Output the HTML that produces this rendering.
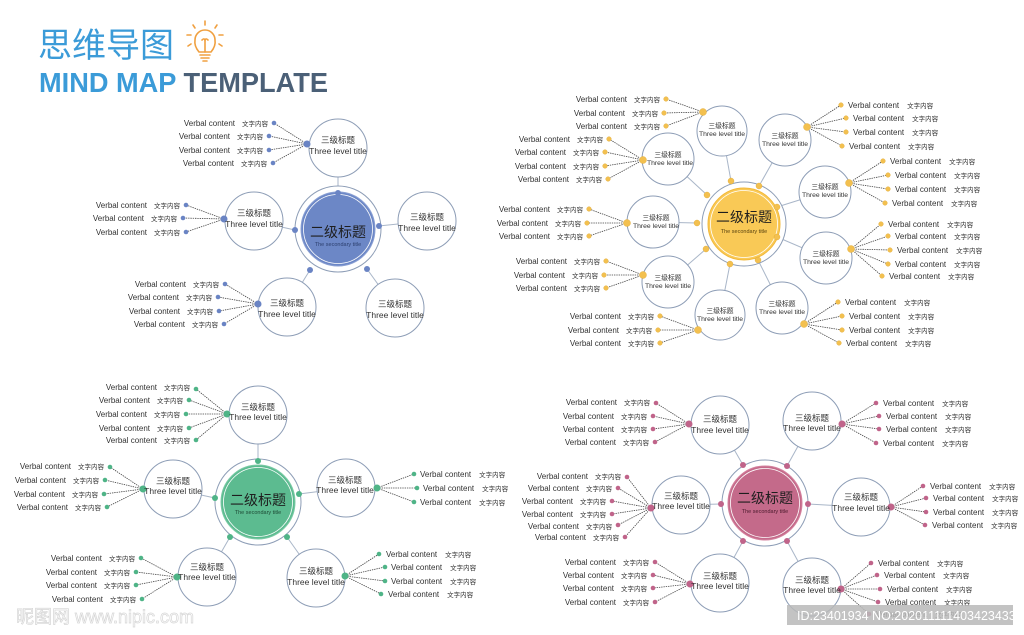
<!DOCTYPE html>
<html><head><meta charset="utf-8"><style>
html,body{margin:0;padding:0;background:#fff;}
svg{display:block;}
text{font-family:"Liberation Sans","Noto Sans CJK SC",sans-serif;}
.v{font-size:8px;fill:#333;}
.v tspan{font-size:6.5px;}
.n1{font-size:8.5px;fill:#333;text-anchor:middle;}
.n2{font-size:6.8px;fill:#333;text-anchor:middle;}
.ct{font-size:14px;fill:#1e1e1e;text-anchor:middle;}
.cs{font-size:5.5px;text-anchor:middle;}
.dl{stroke:#444;stroke-width:0.8;stroke-dasharray:1.4 0.9;fill:none;}
.sl{stroke:#a9b6c8;stroke-width:1;}
.nc{fill:#fff;stroke:#8d9db6;stroke-width:1;}
</style></head><body>
<svg width="1024" height="635" viewBox="0 0 1024 635" xmlns="http://www.w3.org/2000/svg">
<!-- Title -->
<text x="38" y="57" font-size="34" fill="#3b9bd8" font-family="Liberation Sans,Noto Sans CJK SC,sans-serif">思维导图</text>
<text x="39" y="92" font-size="28" font-weight="bold" fill="#3b9bd8" textLength="289" lengthAdjust="spacingAndGlyphs">MIND MAP <tspan fill="#4b6077">TEMPLATE</tspan></text>
<g stroke="#f0a040" stroke-width="1.6" fill="none" stroke-linecap="round">
<path d="M199 52 Q194 46 195 40 A10 10 0 1 1 215 40 Q216 46 211 52 Z"/>
<path d="M200 55 H210 M201 58 H209 M203 61 H207"/>
<path d="M202 40 q3 -3 3 2 M208 40 q-3 -3 -3 2 M205 42 V52"/>
<path d="M205 21 V25 M193 25 l2 3 M217 25 l-2 3 M187 35 h4 M219 35 h4 M188 46 l3 -2 M222 46 l-3 -2"/>
</g>

<!-- ================= Q1 BLUE ================= -->
<g>
<line class="sl" x1="338" y1="193" x2="338" y2="148"/>
<line class="sl" x1="295" y1="230" x2="254" y2="221"/>
<line class="sl" x1="379" y1="226" x2="427" y2="221"/>
<line class="sl" x1="310" y1="270" x2="287" y2="307"/>
<line class="sl" x1="367" y1="269" x2="395" y2="308"/>
<path class="dl" d="M307 144L274 123M307 144L269 136M307 144L269 150M307 144L273 163"/>
<path class="dl" d="M224 219L186 205M224 219L183 218M224 219L186 232"/>
<path class="dl" d="M258 304L225 284M258 304L218 297M258 304L219 311M258 304L224 324"/>
<circle class="nc" cx="338" cy="148" r="29"/>
<circle class="nc" cx="254" cy="221" r="29"/>
<circle class="nc" cx="427" cy="221" r="29"/>
<circle class="nc" cx="287" cy="307" r="29"/>
<circle class="nc" cx="395" cy="308" r="29"/>
<circle class="nc" cx="338" cy="229" r="43"/>
<circle cx="338" cy="229" r="37" fill="#6c87c6" stroke="#8aa0d4" stroke-width="1"/>
<circle cx="338" cy="229" r="34.5" fill="none" stroke="#fff" stroke-width="0.8"/>
<text class="ct" x="338" y="237">二级标题</text>
<text class="cs" x="338" y="246" fill="#2c3f6e">The secondary title</text>
<g fill="#6a84c4">
<circle cx="338" cy="193" r="3"/><circle cx="295" cy="230" r="3"/><circle cx="379" cy="226" r="3"/><circle cx="310" cy="270" r="3"/><circle cx="367" cy="269" r="3"/>
<circle cx="307" cy="144" r="3.5"/><circle cx="224" cy="219" r="3.5"/><circle cx="258" cy="304" r="3.5"/>
<circle cx="274" cy="123" r="2.3"/><circle cx="269" cy="136" r="2.3"/><circle cx="269" cy="150" r="2.3"/><circle cx="273" cy="163" r="2.3"/>
<circle cx="186" cy="205" r="2.3"/><circle cx="183" cy="218" r="2.3"/><circle cx="186" cy="232" r="2.3"/>
<circle cx="225" cy="284" r="2.3"/><circle cx="218" cy="297" r="2.3"/><circle cx="219" cy="311" r="2.3"/><circle cx="224" cy="324" r="2.3"/>
</g>
<g text-anchor="end">
<text class="v" x="268" y="126">Verbal content<tspan dx="7">文字内容</tspan></text>
<text class="v" x="263" y="139">Verbal content<tspan dx="7">文字内容</tspan></text>
<text class="v" x="263" y="153">Verbal content<tspan dx="7">文字内容</tspan></text>
<text class="v" x="267" y="166">Verbal content<tspan dx="7">文字内容</tspan></text>
<text class="v" x="180" y="208">Verbal content<tspan dx="7">文字内容</tspan></text>
<text class="v" x="177" y="221">Verbal content<tspan dx="7">文字内容</tspan></text>
<text class="v" x="180" y="235">Verbal content<tspan dx="7">文字内容</tspan></text>
<text class="v" x="219" y="287">Verbal content<tspan dx="7">文字内容</tspan></text>
<text class="v" x="212" y="300">Verbal content<tspan dx="7">文字内容</tspan></text>
<text class="v" x="213" y="314">Verbal content<tspan dx="7">文字内容</tspan></text>
<text class="v" x="218" y="327">Verbal content<tspan dx="7">文字内容</tspan></text>
</g>
<text class="n1" x="338" y="143">三级标题</text><text class="n1" x="338" y="154">Three level title</text>
<text class="n1" x="254" y="216">三级标题</text><text class="n1" x="254" y="227">Three level title</text>
<text class="n1" x="427" y="220">三级标题</text><text class="n1" x="427" y="231">Three level title</text>
<text class="n1" x="287" y="306">三级标题</text><text class="n1" x="287" y="317">Three level title</text>
<text class="n1" x="395" y="307">三级标题</text><text class="n1" x="395" y="318">Three level title</text>
</g>

<!-- ================= Q2 YELLOW ================= -->
<g>
<line class="sl" x1="731" y1="181" x2="722" y2="131"/>
<line class="sl" x1="759" y1="186" x2="785" y2="140"/>
<line class="sl" x1="777" y1="207" x2="825" y2="192"/>
<line class="sl" x1="777" y1="237" x2="826" y2="258"/>
<line class="sl" x1="758" y1="260" x2="782" y2="308"/>
<line class="sl" x1="730" y1="264" x2="720" y2="315"/>
<line class="sl" x1="706" y1="249" x2="668" y2="282"/>
<line class="sl" x1="697" y1="223" x2="653" y2="222"/>
<line class="sl" x1="707" y1="195" x2="668" y2="159"/>
<path class="dl" d="M703 112L666 99M703 112L664 113M703 112L666 126"/>
<path class="dl" d="M807 127L841 105M807 127L846 118M807 127L846 132M807 127L842 146"/>
<path class="dl" d="M849 183L883 161M849 183L888 175M849 183L888 189M849 183L885 203"/>
<path class="dl" d="M851 249L881 224M851 249L888 236M851 249L890 250M851 249L888 264M851 249L882 276"/>
<path class="dl" d="M804 324L838 302M804 324L842 316M804 324L842 330M804 324L839 343"/>
<path class="dl" d="M698 330L660 316M698 330L658 330M698 330L660 343"/>
<path class="dl" d="M643 275L606 261M643 275L604 275M643 275L606 288"/>
<path class="dl" d="M627 223L589 209M627 223L587 223M627 223L589 236"/>
<path class="dl" d="M643 160L609 139M643 160L605 152M643 160L605 166M643 160L608 179"/>
<circle class="nc" cx="722" cy="131" r="25"/>
<circle class="nc" cx="785" cy="140" r="26"/>
<circle class="nc" cx="825" cy="192" r="26"/>
<circle class="nc" cx="826" cy="258" r="26"/>
<circle class="nc" cx="782" cy="308" r="26"/>
<circle class="nc" cx="720" cy="315" r="25"/>
<circle class="nc" cx="668" cy="282" r="26"/>
<circle class="nc" cx="653" cy="222" r="26"/>
<circle class="nc" cx="668" cy="159" r="26"/>
<circle class="nc" cx="744" cy="224" r="42"/>
<circle cx="744" cy="224" r="36" fill="#f9c956" stroke="#f3b93a" stroke-width="1"/>
<circle cx="744" cy="224" r="33.5" fill="none" stroke="#fff" stroke-width="0.8"/>
<text class="ct" x="744" y="222">二级标题</text>
<text class="cs" x="744" y="233" fill="#5a4410">The secondary title</text>
<g fill="#f3c04f" stroke="#e0a830" stroke-width="0.4">
<circle cx="731" cy="181" r="3"/><circle cx="759" cy="186" r="3"/><circle cx="777" cy="207" r="3"/><circle cx="777" cy="237" r="3"/><circle cx="758" cy="260" r="3"/><circle cx="730" cy="264" r="3"/><circle cx="706" cy="249" r="3"/><circle cx="697" cy="223" r="3"/><circle cx="707" cy="195" r="3"/>
<circle cx="703" cy="112" r="3.5"/><circle cx="807" cy="127" r="3.5"/><circle cx="849" cy="183" r="3.5"/><circle cx="851" cy="249" r="3.5"/><circle cx="804" cy="324" r="3.5"/><circle cx="698" cy="330" r="3.5"/><circle cx="643" cy="275" r="3.5"/><circle cx="627" cy="223" r="3.5"/><circle cx="643" cy="160" r="3.5"/>
<circle cx="666" cy="99" r="2.3"/><circle cx="664" cy="113" r="2.3"/><circle cx="666" cy="126" r="2.3"/>
<circle cx="841" cy="105" r="2.3"/><circle cx="846" cy="118" r="2.3"/><circle cx="846" cy="132" r="2.3"/><circle cx="842" cy="146" r="2.3"/>
<circle cx="883" cy="161" r="2.3"/><circle cx="888" cy="175" r="2.3"/><circle cx="888" cy="189" r="2.3"/><circle cx="885" cy="203" r="2.3"/>
<circle cx="881" cy="224" r="2.3"/><circle cx="888" cy="236" r="2.3"/><circle cx="890" cy="250" r="2.3"/><circle cx="888" cy="264" r="2.3"/><circle cx="882" cy="276" r="2.3"/>
<circle cx="838" cy="302" r="2.3"/><circle cx="842" cy="316" r="2.3"/><circle cx="842" cy="330" r="2.3"/><circle cx="839" cy="343" r="2.3"/>
<circle cx="660" cy="316" r="2.3"/><circle cx="658" cy="330" r="2.3"/><circle cx="660" cy="343" r="2.3"/>
<circle cx="606" cy="261" r="2.3"/><circle cx="604" cy="275" r="2.3"/><circle cx="606" cy="288" r="2.3"/>
<circle cx="589" cy="209" r="2.3"/><circle cx="587" cy="223" r="2.3"/><circle cx="589" cy="236" r="2.3"/>
<circle cx="609" cy="139" r="2.3"/><circle cx="605" cy="152" r="2.3"/><circle cx="605" cy="166" r="2.3"/><circle cx="608" cy="179" r="2.3"/>
</g>
<g text-anchor="end">
<text class="v" x="660" y="102">Verbal content<tspan dx="7">文字内容</tspan></text>
<text class="v" x="658" y="116">Verbal content<tspan dx="7">文字内容</tspan></text>
<text class="v" x="660" y="129">Verbal content<tspan dx="7">文字内容</tspan></text>
<text class="v" x="654" y="319">Verbal content<tspan dx="7">文字内容</tspan></text>
<text class="v" x="652" y="333">Verbal content<tspan dx="7">文字内容</tspan></text>
<text class="v" x="654" y="346">Verbal content<tspan dx="7">文字内容</tspan></text>
<text class="v" x="600" y="264">Verbal content<tspan dx="7">文字内容</tspan></text>
<text class="v" x="598" y="278">Verbal content<tspan dx="7">文字内容</tspan></text>
<text class="v" x="600" y="291">Verbal content<tspan dx="7">文字内容</tspan></text>
<text class="v" x="583" y="212">Verbal content<tspan dx="7">文字内容</tspan></text>
<text class="v" x="581" y="226">Verbal content<tspan dx="7">文字内容</tspan></text>
<text class="v" x="583" y="239">Verbal content<tspan dx="7">文字内容</tspan></text>
<text class="v" x="603" y="142">Verbal content<tspan dx="7">文字内容</tspan></text>
<text class="v" x="599" y="155">Verbal content<tspan dx="7">文字内容</tspan></text>
<text class="v" x="599" y="169">Verbal content<tspan dx="7">文字内容</tspan></text>
<text class="v" x="602" y="182">Verbal content<tspan dx="7">文字内容</tspan></text>
</g>
<g>
<text class="v" x="848" y="108">Verbal content<tspan dx="8">文字内容</tspan></text>
<text class="v" x="853" y="121">Verbal content<tspan dx="8">文字内容</tspan></text>
<text class="v" x="853" y="135">Verbal content<tspan dx="8">文字内容</tspan></text>
<text class="v" x="849" y="149">Verbal content<tspan dx="8">文字内容</tspan></text>
<text class="v" x="890" y="164">Verbal content<tspan dx="8">文字内容</tspan></text>
<text class="v" x="895" y="178">Verbal content<tspan dx="8">文字内容</tspan></text>
<text class="v" x="895" y="192">Verbal content<tspan dx="8">文字内容</tspan></text>
<text class="v" x="892" y="206">Verbal content<tspan dx="8">文字内容</tspan></text>
<text class="v" x="888" y="227">Verbal content<tspan dx="8">文字内容</tspan></text>
<text class="v" x="895" y="239">Verbal content<tspan dx="8">文字内容</tspan></text>
<text class="v" x="897" y="253">Verbal content<tspan dx="8">文字内容</tspan></text>
<text class="v" x="895" y="267">Verbal content<tspan dx="8">文字内容</tspan></text>
<text class="v" x="889" y="279">Verbal content<tspan dx="8">文字内容</tspan></text>
<text class="v" x="845" y="305">Verbal content<tspan dx="8">文字内容</tspan></text>
<text class="v" x="849" y="319">Verbal content<tspan dx="8">文字内容</tspan></text>
<text class="v" x="849" y="333">Verbal content<tspan dx="8">文字内容</tspan></text>
<text class="v" x="846" y="346">Verbal content<tspan dx="8">文字内容</tspan></text>
</g>
<text class="n2" x="722" y="128">三级标题</text><text class="n2" x="722" y="136">Three level title</text>
<text class="n2" x="785" y="138">三级标题</text><text class="n2" x="785" y="146">Three level title</text>
<text class="n2" x="825" y="189">三级标题</text><text class="n2" x="825" y="197">Three level title</text>
<text class="n2" x="826" y="256">三级标题</text><text class="n2" x="826" y="264">Three level title</text>
<text class="n2" x="782" y="306">三级标题</text><text class="n2" x="782" y="314">Three level title</text>
<text class="n2" x="720" y="313">三级标题</text><text class="n2" x="720" y="321">Three level title</text>
<text class="n2" x="668" y="280">三级标题</text><text class="n2" x="668" y="288">Three level title</text>
<text class="n2" x="656" y="220">三级标题</text><text class="n2" x="656" y="228">Three level title</text>
<text class="n2" x="668" y="157">三级标题</text><text class="n2" x="670" y="165">Three level title</text>
</g>

<!-- ================= Q3 GREEN ================= -->
<g>
<line class="sl" x1="258" y1="461" x2="258" y2="415"/>
<line class="sl" x1="215" y1="498" x2="173" y2="489"/>
<line class="sl" x1="299" y1="494" x2="346" y2="488"/>
<line class="sl" x1="230" y1="537" x2="207" y2="577"/>
<line class="sl" x1="287" y1="537" x2="316" y2="578"/>
<path class="dl" d="M227 414L196 389M227 414L189 400M227 414L186 414M227 414L189 428M227 414L196 440"/>
<path class="dl" d="M143 489L110 467M143 489L105 480M143 489L104 494M143 489L107 507"/>
<path class="dl" d="M377 488L414 474M377 488L417 488M377 488L414 502"/>
<path class="dl" d="M177 577L141 558M177 577L136 572M177 577L136 585M177 577L142 599"/>
<path class="dl" d="M345 576L379 554M345 576L385 567M345 576L385 581M345 576L381 594"/>
<circle class="nc" cx="258" cy="415" r="29"/>
<circle class="nc" cx="173" cy="489" r="29"/>
<circle class="nc" cx="346" cy="488" r="29"/>
<circle class="nc" cx="207" cy="577" r="29"/>
<circle class="nc" cx="316" cy="578" r="29"/>
<circle class="nc" cx="258" cy="502" r="43"/>
<circle cx="258" cy="502" r="37" fill="#5cbb90" stroke="#7ccaa6" stroke-width="1"/>
<circle cx="258" cy="502" r="34.5" fill="none" stroke="#fff" stroke-width="0.8"/>
<text class="ct" x="258" y="505">二级标题</text>
<text class="cs" x="258" y="514" fill="#1d4a35">The secondary title</text>
<g fill="#4fb487">
<circle cx="258" cy="461" r="3"/><circle cx="215" cy="498" r="3"/><circle cx="299" cy="494" r="3"/><circle cx="230" cy="537" r="3"/><circle cx="287" cy="537" r="3"/>
<circle cx="227" cy="414" r="3.5"/><circle cx="143" cy="489" r="3.5"/><circle cx="377" cy="488" r="3.5"/><circle cx="177" cy="577" r="3.5"/><circle cx="345" cy="576" r="3.5"/>
<circle cx="196" cy="389" r="2.3"/><circle cx="189" cy="400" r="2.3"/><circle cx="186" cy="414" r="2.3"/><circle cx="189" cy="428" r="2.3"/><circle cx="196" cy="440" r="2.3"/>
<circle cx="110" cy="467" r="2.3"/><circle cx="105" cy="480" r="2.3"/><circle cx="104" cy="494" r="2.3"/><circle cx="107" cy="507" r="2.3"/>
<circle cx="414" cy="474" r="2.3"/><circle cx="417" cy="488" r="2.3"/><circle cx="414" cy="502" r="2.3"/>
<circle cx="141" cy="558" r="2.3"/><circle cx="136" cy="572" r="2.3"/><circle cx="136" cy="585" r="2.3"/><circle cx="142" cy="599" r="2.3"/>
<circle cx="379" cy="554" r="2.3"/><circle cx="385" cy="567" r="2.3"/><circle cx="385" cy="581" r="2.3"/><circle cx="381" cy="594" r="2.3"/>
</g>
<g text-anchor="end">
<text class="v" x="190" y="390">Verbal content<tspan dx="7">文字内容</tspan></text>
<text class="v" x="183" y="403">Verbal content<tspan dx="7">文字内容</tspan></text>
<text class="v" x="180" y="417">Verbal content<tspan dx="7">文字内容</tspan></text>
<text class="v" x="183" y="431">Verbal content<tspan dx="7">文字内容</tspan></text>
<text class="v" x="190" y="443">Verbal content<tspan dx="7">文字内容</tspan></text>
<text class="v" x="104" y="469">Verbal content<tspan dx="7">文字内容</tspan></text>
<text class="v" x="99" y="483">Verbal content<tspan dx="7">文字内容</tspan></text>
<text class="v" x="98" y="497">Verbal content<tspan dx="7">文字内容</tspan></text>
<text class="v" x="101" y="510">Verbal content<tspan dx="7">文字内容</tspan></text>
<text class="v" x="135" y="561">Verbal content<tspan dx="7">文字内容</tspan></text>
<text class="v" x="130" y="575">Verbal content<tspan dx="7">文字内容</tspan></text>
<text class="v" x="130" y="588">Verbal content<tspan dx="7">文字内容</tspan></text>
<text class="v" x="136" y="602">Verbal content<tspan dx="7">文字内容</tspan></text>
</g>
<g>
<text class="v" x="420" y="477">Verbal content<tspan dx="8">文字内容</tspan></text>
<text class="v" x="423" y="491">Verbal content<tspan dx="8">文字内容</tspan></text>
<text class="v" x="420" y="505">Verbal content<tspan dx="8">文字内容</tspan></text>
<text class="v" x="386" y="557">Verbal content<tspan dx="8">文字内容</tspan></text>
<text class="v" x="391" y="570">Verbal content<tspan dx="8">文字内容</tspan></text>
<text class="v" x="391" y="584">Verbal content<tspan dx="8">文字内容</tspan></text>
<text class="v" x="388" y="597">Verbal content<tspan dx="8">文字内容</tspan></text>
</g>
<text class="n1" x="258" y="410">三级标题</text><text class="n1" x="258" y="420">Three level title</text>
<text class="n1" x="173" y="484">三级标题</text><text class="n1" x="173" y="494">Three level title</text>
<text class="n1" x="345" y="483">三级标题</text><text class="n1" x="345" y="493">Three level title</text>
<text class="n1" x="207" y="570">三级标题</text><text class="n1" x="207" y="580">Three level title</text>
<text class="n1" x="316" y="574">三级标题</text><text class="n1" x="316" y="585">Three level title</text>
</g>

<!-- ================= Q4 PINK ================= -->
<g>
<line class="sl" x1="743" y1="465" x2="720" y2="425"/>
<line class="sl" x1="787" y1="466" x2="812" y2="421"/>
<line class="sl" x1="721" y1="504" x2="681" y2="505"/>
<line class="sl" x1="808" y1="504" x2="861" y2="507"/>
<line class="sl" x1="743" y1="541" x2="720" y2="583"/>
<line class="sl" x1="787" y1="541" x2="812" y2="587"/>
<path class="dl" d="M689 424L656 403M689 424L653 416M689 424L653 429M689 424L655 442"/>
<path class="dl" d="M842 424L876 403M842 424L879 416M842 424L879 429M842 424L876 443"/>
<path class="dl" d="M651 508L627 477M651 508L618 488M651 508L612 501M651 508L612 514M651 508L618 525M651 508L625 537"/>
<path class="dl" d="M891 507L923 486M891 507L926 498M891 507L926 512M891 507L925 525"/>
<path class="dl" d="M690 584L655 562M690 584L653 575M690 584L653 588M690 584L655 602"/>
<path class="dl" d="M841 589L871 563M841 589L877 575M841 589L880 589M841 589L878 602M841 589L869 614"/>
<circle class="nc" cx="720" cy="425" r="29"/>
<circle class="nc" cx="812" cy="421" r="29"/>
<circle class="nc" cx="681" cy="505" r="29"/>
<circle class="nc" cx="861" cy="507" r="29"/>
<circle class="nc" cx="720" cy="583" r="29"/>
<circle class="nc" cx="812" cy="587" r="29"/>
<circle class="nc" cx="765" cy="503" r="43"/>
<circle cx="765" cy="503" r="37" fill="#c46a8a" stroke="#d5839f" stroke-width="1"/>
<circle cx="765" cy="503" r="34.5" fill="none" stroke="#fff" stroke-width="0.8"/>
<text class="ct" x="765" y="503">二级标题</text>
<text class="cs" x="765" y="513" fill="#4a1a2c">The secondary title</text>
<g fill="#c0648a">
<circle cx="743" cy="465" r="3"/><circle cx="787" cy="466" r="3"/><circle cx="721" cy="504" r="3"/><circle cx="808" cy="504" r="3"/><circle cx="743" cy="541" r="3"/><circle cx="787" cy="541" r="3"/>
<circle cx="689" cy="424" r="3.5"/><circle cx="842" cy="424" r="3.5"/><circle cx="651" cy="508" r="3.5"/><circle cx="891" cy="507" r="3.5"/><circle cx="690" cy="584" r="3.5"/><circle cx="841" cy="589" r="3.5"/>
<circle cx="656" cy="403" r="2.3"/><circle cx="653" cy="416" r="2.3"/><circle cx="653" cy="429" r="2.3"/><circle cx="655" cy="442" r="2.3"/>
<circle cx="876" cy="403" r="2.3"/><circle cx="879" cy="416" r="2.3"/><circle cx="879" cy="429" r="2.3"/><circle cx="876" cy="443" r="2.3"/>
<circle cx="627" cy="477" r="2.3"/><circle cx="618" cy="488" r="2.3"/><circle cx="612" cy="501" r="2.3"/><circle cx="612" cy="514" r="2.3"/><circle cx="618" cy="525" r="2.3"/><circle cx="625" cy="537" r="2.3"/>
<circle cx="923" cy="486" r="2.3"/><circle cx="926" cy="498" r="2.3"/><circle cx="926" cy="512" r="2.3"/><circle cx="925" cy="525" r="2.3"/>
<circle cx="655" cy="562" r="2.3"/><circle cx="653" cy="575" r="2.3"/><circle cx="653" cy="588" r="2.3"/><circle cx="655" cy="602" r="2.3"/>
<circle cx="871" cy="563" r="2.3"/><circle cx="877" cy="575" r="2.3"/><circle cx="880" cy="589" r="2.3"/><circle cx="878" cy="602" r="2.3"/><circle cx="869" cy="614" r="2.3"/>
</g>
<g text-anchor="end">
<text class="v" x="650" y="405">Verbal content<tspan dx="7">文字内容</tspan></text>
<text class="v" x="647" y="419">Verbal content<tspan dx="7">文字内容</tspan></text>
<text class="v" x="647" y="432">Verbal content<tspan dx="7">文字内容</tspan></text>
<text class="v" x="649" y="445">Verbal content<tspan dx="7">文字内容</tspan></text>
<text class="v" x="621" y="479">Verbal content<tspan dx="7">文字内容</tspan></text>
<text class="v" x="612" y="491">Verbal content<tspan dx="7">文字内容</tspan></text>
<text class="v" x="606" y="504">Verbal content<tspan dx="7">文字内容</tspan></text>
<text class="v" x="606" y="517">Verbal content<tspan dx="7">文字内容</tspan></text>
<text class="v" x="612" y="529">Verbal content<tspan dx="7">文字内容</tspan></text>
<text class="v" x="619" y="540">Verbal content<tspan dx="7">文字内容</tspan></text>
<text class="v" x="649" y="565">Verbal content<tspan dx="7">文字内容</tspan></text>
<text class="v" x="647" y="578">Verbal content<tspan dx="7">文字内容</tspan></text>
<text class="v" x="647" y="591">Verbal content<tspan dx="7">文字内容</tspan></text>
<text class="v" x="649" y="605">Verbal content<tspan dx="7">文字内容</tspan></text>
</g>
<g>
<text class="v" x="883" y="406">Verbal content<tspan dx="8">文字内容</tspan></text>
<text class="v" x="886" y="419">Verbal content<tspan dx="8">文字内容</tspan></text>
<text class="v" x="886" y="432">Verbal content<tspan dx="8">文字内容</tspan></text>
<text class="v" x="883" y="446">Verbal content<tspan dx="8">文字内容</tspan></text>
<text class="v" x="930" y="489">Verbal content<tspan dx="8">文字内容</tspan></text>
<text class="v" x="933" y="501">Verbal content<tspan dx="8">文字内容</tspan></text>
<text class="v" x="933" y="515">Verbal content<tspan dx="8">文字内容</tspan></text>
<text class="v" x="932" y="528">Verbal content<tspan dx="8">文字内容</tspan></text>
<text class="v" x="878" y="566">Verbal content<tspan dx="8">文字内容</tspan></text>
<text class="v" x="884" y="578">Verbal content<tspan dx="8">文字内容</tspan></text>
<text class="v" x="887" y="592">Verbal content<tspan dx="8">文字内容</tspan></text>
<text class="v" x="885" y="605">Verbal content<tspan dx="8">文字内容</tspan></text>
<text class="v" x="876" y="617">Verbal content<tspan dx="8">文字内容</tspan></text>
</g>
<text class="n1" x="720" y="422">三级标题</text><text class="n1" x="720" y="433">Three level title</text>
<text class="n1" x="812" y="421">三级标题</text><text class="n1" x="812" y="431">Three level title</text>
<text class="n1" x="681" y="499">三级标题</text><text class="n1" x="681" y="509">Three level title</text>
<text class="n1" x="861" y="500">三级标题</text><text class="n1" x="861" y="511">Three level title</text>
<text class="n1" x="720" y="579">三级标题</text><text class="n1" x="720" y="589">Three level title</text>
<text class="n1" x="812" y="583">三级标题</text><text class="n1" x="812" y="593">Three level title</text>
</g>

<!-- watermarks -->
<text x="16" y="623" font-size="18" fill="#fff" stroke="#d6d6d6" stroke-width="0.7" font-family="Liberation Sans,Noto Sans CJK SC,sans-serif">昵图网 www.nipic.com</text>
<rect x="787" y="605" width="226" height="20" fill="#b8b8b8" opacity="0.85"/>
<text x="797" y="620" font-size="12.5" fill="#fff">ID:23401934 NO:20201111140342343393</text>
</svg>
</body></html>
